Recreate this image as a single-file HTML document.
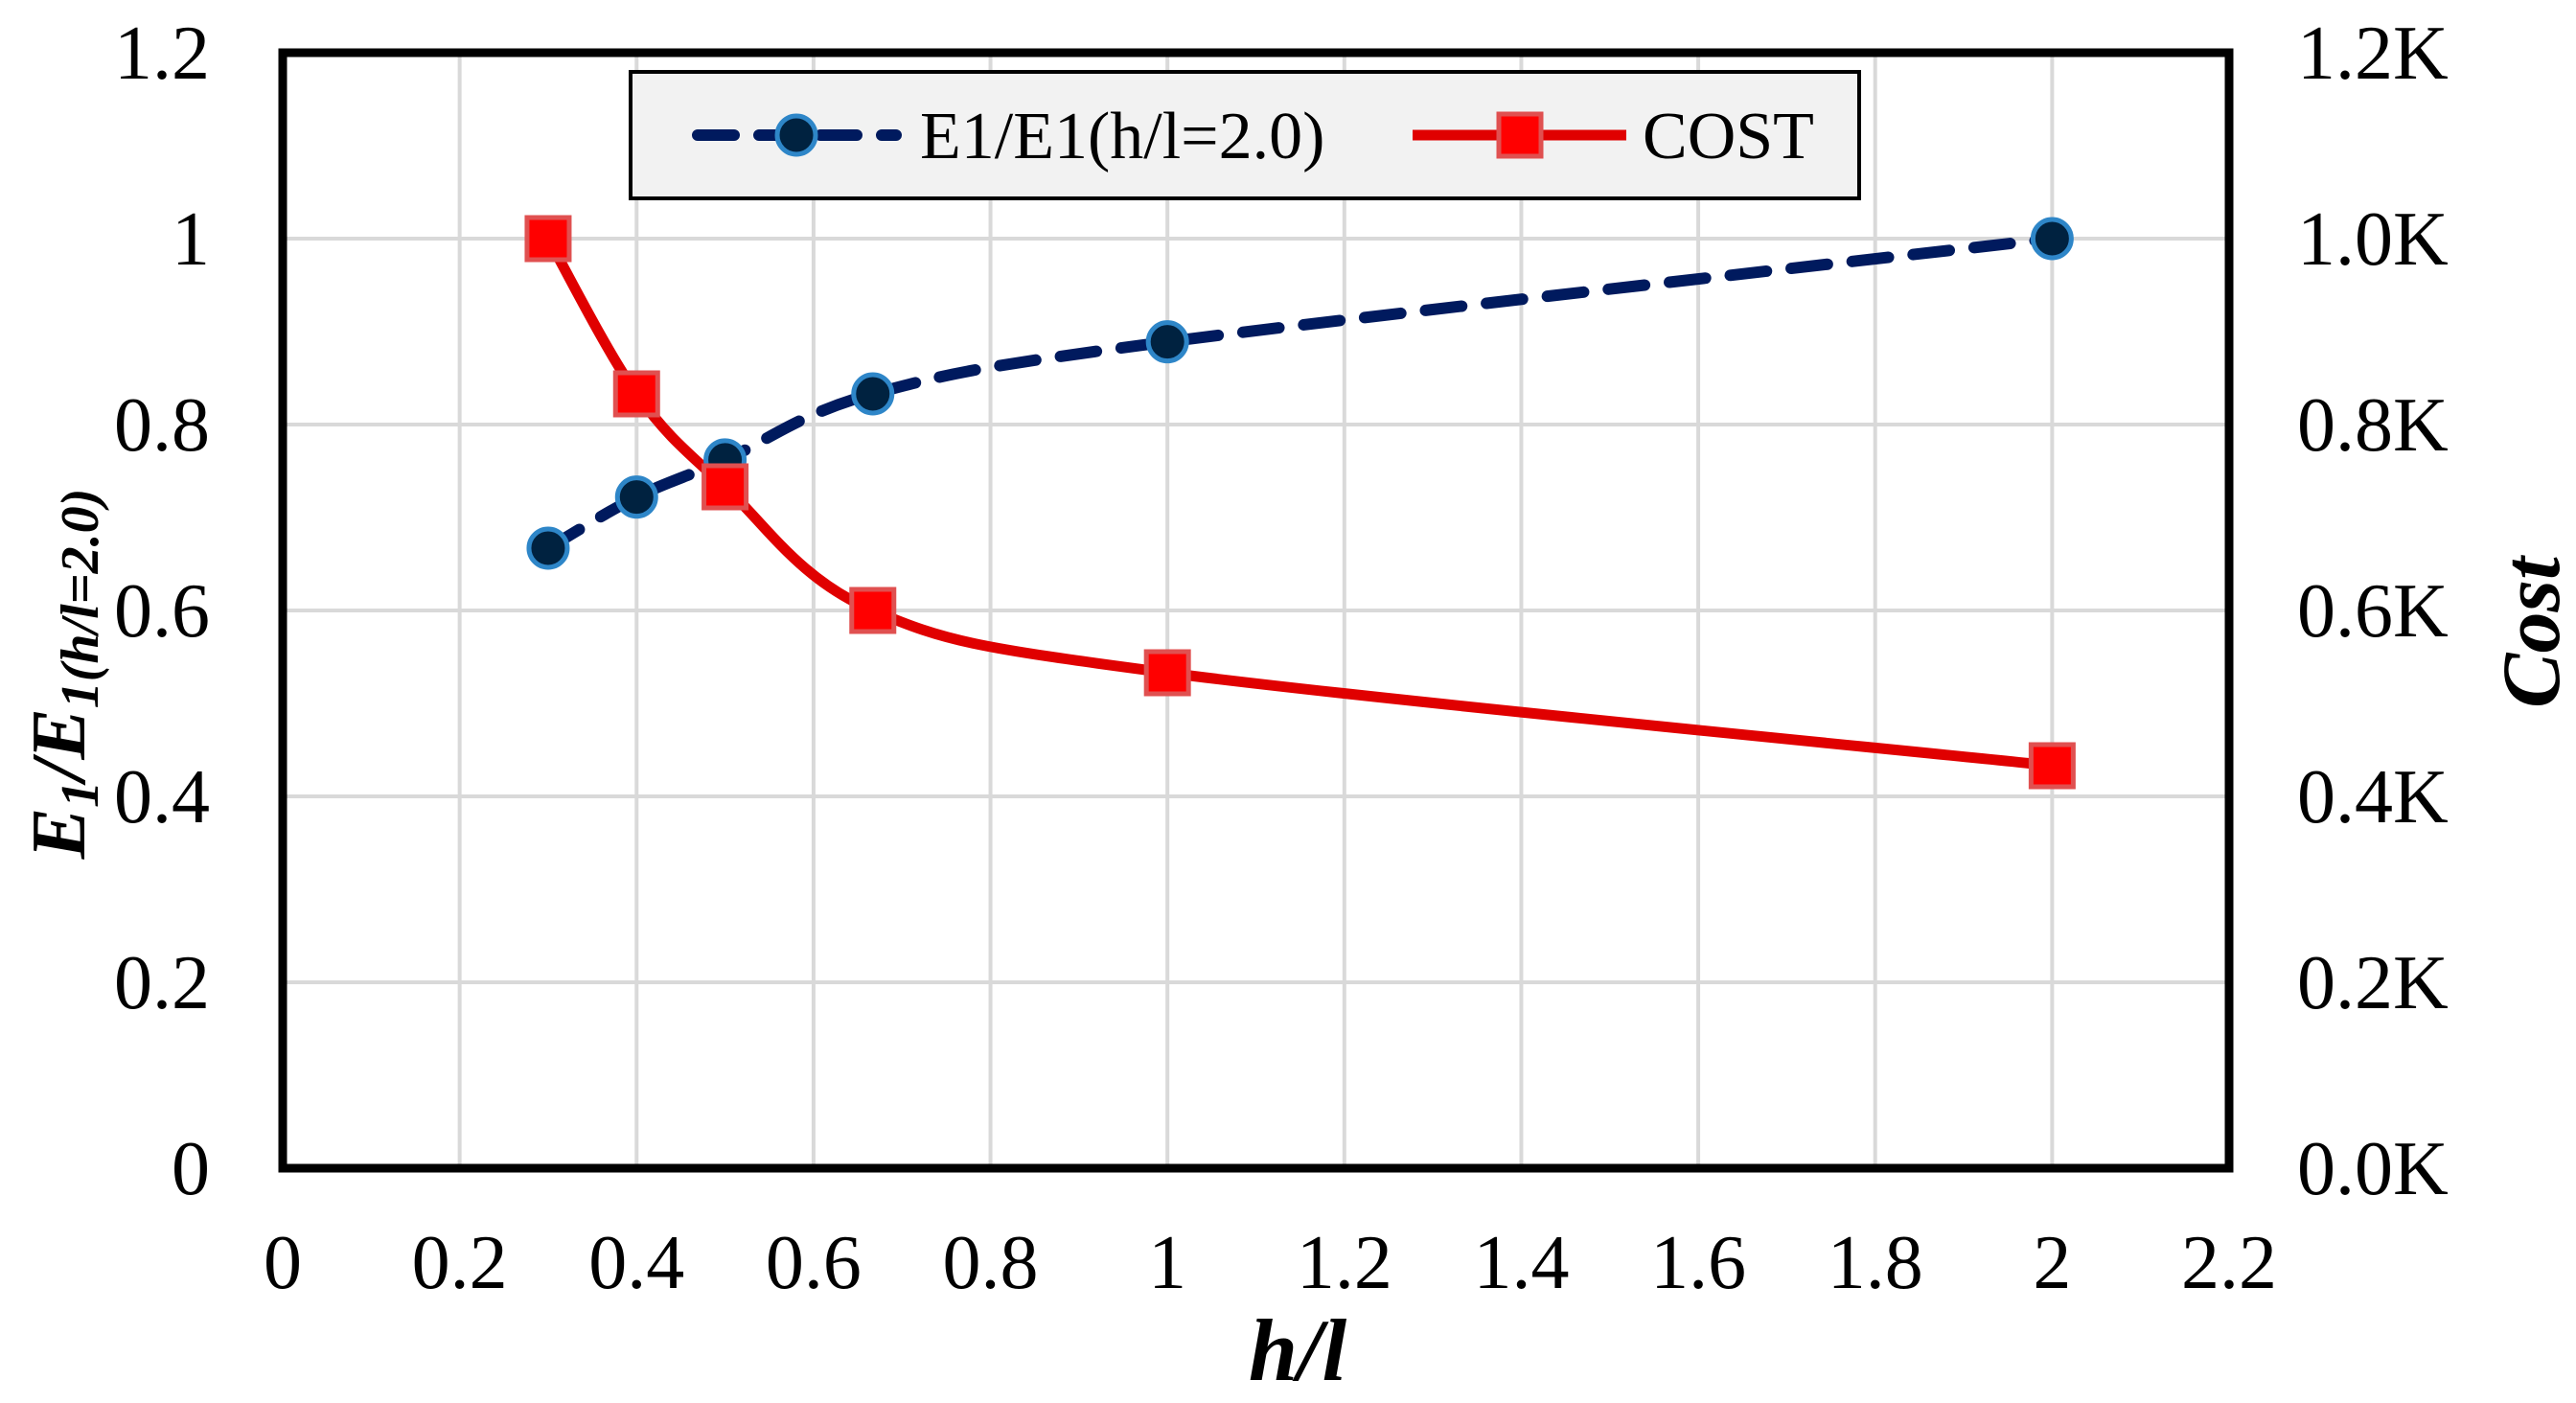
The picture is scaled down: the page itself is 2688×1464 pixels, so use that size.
<!DOCTYPE html>
<html><head><meta charset="utf-8"><style>
html,body{margin:0;padding:0;background:#fff;}
svg{display:block;font-family:"Liberation Serif","Times New Roman",serif;}
</style></head><body>
<svg id="chart" width="2688" height="1464" viewBox="0 0 2688 1464" xmlns="http://www.w3.org/2000/svg">
<g id="grid"></g>
<g id="axes"></g>
<g id="series"></g>
<g id="legend">
  <rect x="658" y="75" width="1282" height="132" fill="#f2f2f2" stroke="#000" stroke-width="4"/>
  <line x1="728" y1="141" x2="935" y2="141" stroke="#001a5e" stroke-width="12" stroke-dasharray="38,26" stroke-linecap="round"/>
  <circle cx="831" cy="141" r="20" fill="#002240" stroke="#2e86c8" stroke-width="5"/>
  <text x="960" y="165" font-size="70">E1/E1(h/l=2.0)</text>
  <line x1="1474" y1="141" x2="1697" y2="141" stroke="#e00000" stroke-width="11"/>
  <rect x="1564" y="119" width="44" height="44" fill="#ff0000" stroke="#e05050" stroke-width="5"/>
  <text x="1714" y="165" font-size="70">COST</text>
</g>
<text x="1354" y="1440" font-size="92" font-weight="bold" font-style="italic" text-anchor="middle">h/l</text>
<text transform="translate(88,703) rotate(-90)" font-size="80" font-weight="bold" font-style="italic" text-anchor="middle">E<tspan font-size="56" dy="14">1</tspan><tspan dy="-14">/E</tspan><tspan font-size="56" dy="14">1(h/l=2.0)</tspan></text>
<text transform="translate(2670,660) rotate(-90)" font-size="86" font-weight="bold" font-style="italic" text-anchor="middle">Cost</text>
</svg>
<script>
const xValues = [0.3, 0.4, 0.5, 0.667, 1, 2];
const ratioValues = [0.667, 0.722, 0.762, 0.833, 0.889, 1.0];
const costValues = [1000, 833, 733, 600, 533, 433];
const xTicks = [0, 0.2, 0.4, 0.6, 0.8, 1, 1.2, 1.4, 1.6, 1.8, 2, 2.2];
const xTickLabels = ["0","0.2","0.4","0.6","0.8","1","1.2","1.4","1.6","1.8","2","2.2"];
const yTicks = [0, 0.2, 0.4, 0.6, 0.8, 1, 1.2];
const yTickLabels = ["0","0.2","0.4","0.6","0.8","1","1.2"];
const y2Ticks = [0, 200, 400, 600, 800, 1000, 1200];
const y2TickLabels = ["0.0K","0.2K","0.4K","0.6K","0.8K","1.0K","1.2K"];

const L=295,R=2326,T=55,B=1219;
const sx=v=>L+(v-0)/(2.2-0)*(R-L);
const sy=v=>B-(v-0)/(1.2-0)*(B-T);
const sy2=v=>B-(v-0)/(1200-0)*(B-T);
const NS="http://www.w3.org/2000/svg";
function mk(tag,parent,attrs){const e=document.createElementNS(NS,tag);for(const k in attrs)e.setAttribute(k,attrs[k]);parent.appendChild(e);return e;}
const grid=document.getElementById('grid'),axes=document.getElementById('axes'),series=document.getElementById('series');

xTicks.forEach((t,i)=>{
  if(t>0&&t<2.2){const g=mk('line',grid,{x1:sx(t),x2:sx(t),y1:T,y2:B,stroke:'#d9d9d9','stroke-width':4});
  
  }
  const tx=mk('text',axes,{x:sx(t),y:1344,'font-size':80,'text-anchor':'middle'});
  tx.textContent=xTickLabels[i];
  
  
});
yTicks.forEach((t,i)=>{
  if(t>0&&t<1.2){const g=mk('line',grid,{x1:L,x2:R,y1:sy(t),y2:sy(t),stroke:'#d9d9d9','stroke-width':4});
  
  }
  const tx=mk('text',axes,{x:219,y:sy(t)+27,'font-size':80,'text-anchor':'end'});
  tx.textContent=yTickLabels[i];
  
  
});
y2Ticks.forEach((t,i)=>{
  const tx=mk('text',axes,{x:2397,y:sy2(t)+27,'font-size':80,'text-anchor':'start'});
  tx.textContent=y2TickLabels[i];
  
  
});
const frame=mk('rect',axes,{x:L,y:T,width:R-L,height:B-T,fill:'none',stroke:'#000','stroke-width':9});



function smooth(pts){
  let d=`M${pts[0][0]},${pts[0][1]}`;
  for(let i=0;i<pts.length-1;i++){
    const p0=pts[i-1]||pts[i],p1=pts[i],p2=pts[i+1],p3=pts[i+2]||p2,k=1/6;
    d+=` C${p1[0]+(p2[0]-p0[0])*k},${p1[1]+(p2[1]-p0[1])*k} ${p2[0]-(p3[0]-p1[0])*k},${p2[1]-(p3[1]-p1[1])*k} ${p2[0]},${p2[1]}`;
  }
  return d;
}
const rp=xValues.map((x,i)=>[sx(x),sy(ratioValues[i])]);
const cp=xValues.map((x,i)=>[sx(x),sy2(costValues[i])]);
const rl=mk('path',series,{d:smooth(rp),fill:'none',stroke:'#001a5e','stroke-width':12,'stroke-dasharray':'38,26','stroke-linecap':'round'});


const cl=mk('path',series,{d:smooth(cp),fill:'none',stroke:'#e00000','stroke-width':11});


rp.forEach(p=>{
  const c=mk('circle',series,{cx:p[0],cy:p[1],r:20,fill:'#002240',stroke:'#2e86c8','stroke-width':5});
  
  
});
cp.forEach(p=>{
  const s=mk('rect',series,{x:p[0]-22,y:p[1]-22,width:44,height:44,fill:'#ff0000',stroke:'#e05050','stroke-width':5});
  
  
});
</script>
</body></html>
